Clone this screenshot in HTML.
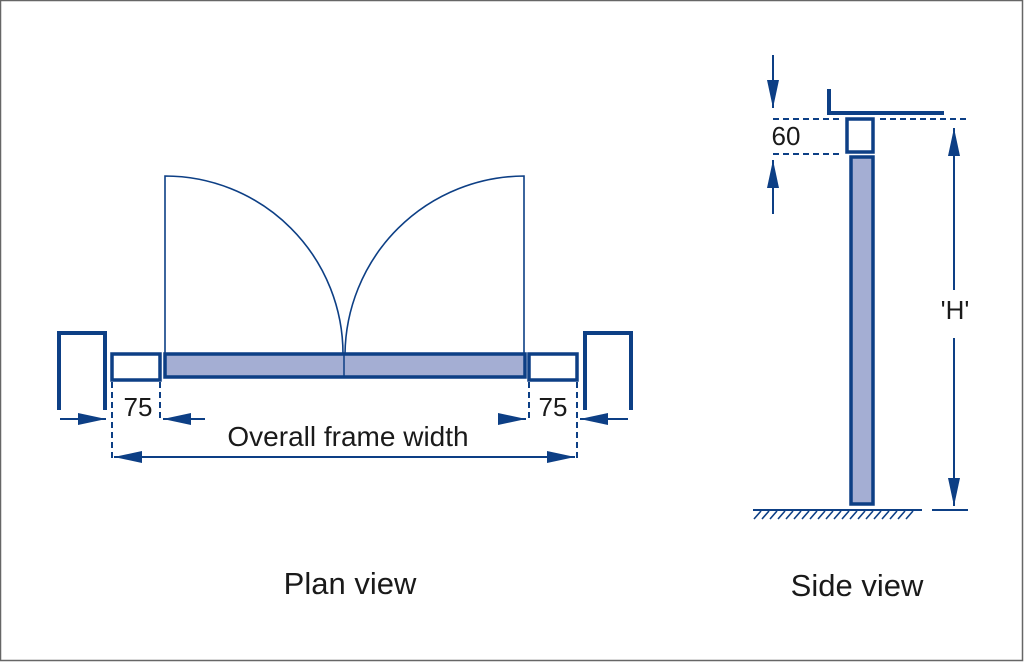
<!DOCTYPE html>
<html><head><meta charset="utf-8"><style>
html,body{margin:0;padding:0;background:#fff;}
svg{display:block;}
text{font-family:"Liberation Sans",sans-serif;fill:#1a1a1a;}
</style></head><body>
<svg width="1024" height="662" viewBox="0 0 1024 662">
<defs>
<marker id="ah2" viewBox="0 0 10 10" refX="10" refY="5" markerWidth="28" markerHeight="12" markerUnits="userSpaceOnUse" orient="auto-start-reverse" preserveAspectRatio="none">
<path d="M0,0 L10,5 L0,10 z" fill="#0d3f85"/></marker>
</defs>
<rect x="0.5" y="0.5" width="1022" height="660" fill="none" stroke="#666" stroke-width="1.5"/>
<g stroke="#0d3f85" fill="none">
<path d="M59,410 V333 H105 V410" stroke-width="4"/>
<path d="M585,410 V333 H631 V410" stroke-width="4"/>
<rect x="112" y="354" width="48" height="26" stroke-width="3.5"/>
<rect x="529" y="354" width="48" height="26" stroke-width="3.5"/>
<rect x="165" y="354" width="360" height="23" fill="#a4aed3" stroke-width="3.5"/>
<line x1="344" y1="354" x2="344" y2="377" stroke-width="1.5"/>
<path d="M165,354 V176 A178,178 0 0 1 343,354" stroke-width="1.6"/>
<path d="M524,354 V176 A180,180 0 0 0 345,354" stroke-width="1.6"/>
<g stroke-width="2" stroke-dasharray="6,4">
<line x1="112" y1="382" x2="112" y2="462"/>
<line x1="160" y1="382" x2="160" y2="420"/>
<line x1="529" y1="382" x2="529" y2="420"/>
<line x1="577" y1="382" x2="577" y2="462"/>
</g>
<g stroke-width="2">
<line x1="60" y1="419" x2="106" y2="419" marker-end="url(#ah2)"/>
<line x1="205" y1="419" x2="163" y2="419" marker-end="url(#ah2)"/>
<line x1="498" y1="419" x2="526" y2="419" marker-end="url(#ah2)"/>
<line x1="628" y1="419" x2="580" y2="419" marker-end="url(#ah2)"/>
<line x1="114" y1="457" x2="575" y2="457" marker-start="url(#ah2)" marker-end="url(#ah2)"/>
</g>
<path d="M829,89 V113 H944" stroke-width="4"/>
<rect x="847" y="119" width="26" height="33" stroke-width="3.5"/>
<rect x="851" y="157" width="22" height="347" fill="#a4aed3" stroke-width="3.5"/>
<g stroke-width="2" stroke-dasharray="6,4">
<line x1="773" y1="119" x2="840" y2="119"/>
<line x1="880" y1="119" x2="970" y2="119"/>
<line x1="773" y1="154" x2="840" y2="154"/>
</g>
<g stroke-width="2">
<line x1="773" y1="55" x2="773" y2="108" marker-end="url(#ah2)"/>
<line x1="773" y1="214" x2="773" y2="160" marker-end="url(#ah2)"/>
<line x1="954" y1="290" x2="954" y2="128" marker-end="url(#ah2)"/>
<line x1="954" y1="338" x2="954" y2="506" marker-end="url(#ah2)"/>
<line x1="753" y1="510" x2="922" y2="510"/>
<line x1="932" y1="510" x2="968" y2="510"/>
</g>
<path stroke-width="1.6" d="M754,519 l7,-8 M762,519 l7,-8 M770,519 l7,-8 M778,519 l7,-8 M786,519 l7,-8 M794,519 l7,-8 M802,519 l7,-8 M810,519 l7,-8 M818,519 l7,-8 M826,519 l7,-8 M834,519 l7,-8 M842,519 l7,-8 M850,519 l7,-8 M858,519 l7,-8 M866,519 l7,-8 M874,519 l7,-8 M882,519 l7,-8 M890,519 l7,-8 M898,519 l7,-8 M906,519 l7,-8"/>
</g>
<text x="138" y="416" font-size="26" text-anchor="middle">75</text>
<text x="553" y="416" font-size="26" text-anchor="middle">75</text>
<text x="348" y="446" font-size="28" text-anchor="middle">Overall frame width</text>
<text x="350" y="594" font-size="31" text-anchor="middle">Plan view</text>
<text x="786" y="145" font-size="26" text-anchor="middle">60</text>
<text x="955" y="319" font-size="26" text-anchor="middle">'H'</text>
<text x="857" y="596" font-size="31" text-anchor="middle">Side view</text>
</svg>
</body></html>
